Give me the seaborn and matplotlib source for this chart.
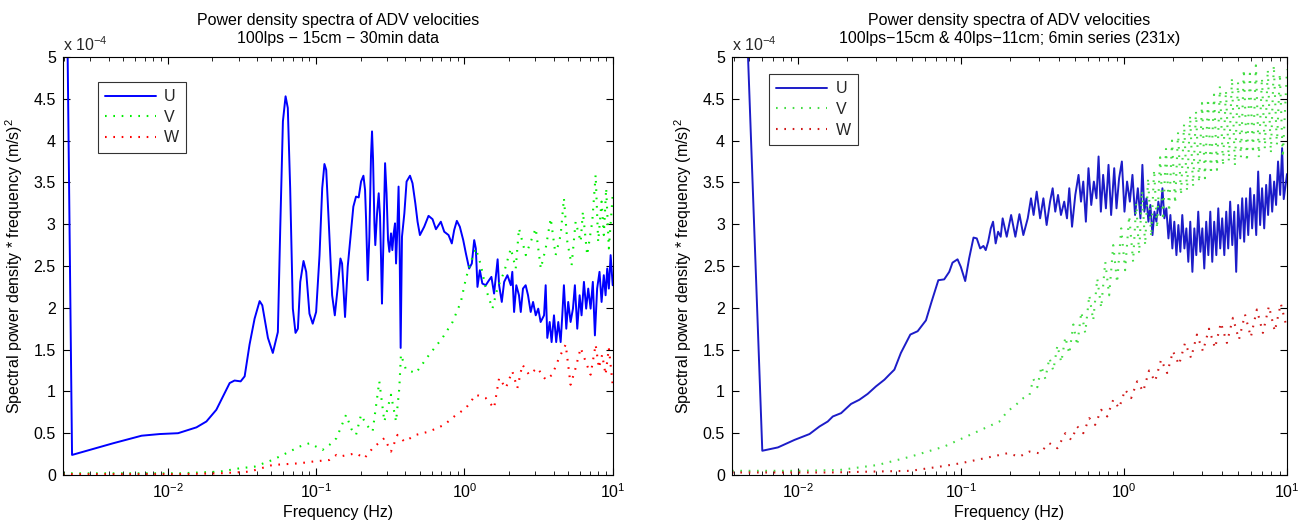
import numpy as np
import pandas as pd
import matplotlib
matplotlib.use("Agg")
import matplotlib.pyplot as plt
import seaborn as sns
from matplotlib.ticker import FuncFormatter, LogLocator, NullFormatter

# ---------------- data (values in units of 1e-4 (m/s)^2, frequencies as log10(Hz)) -------------
left_u_logf = [-2.709, -2.646, -2.368, -2.177, -2.054, -1.931, -1.807, -1.740, -1.673, -1.628,
               -1.583, -1.550, -1.509, -1.482, -1.449, -1.415, -1.381, -1.363, -1.325, -1.292,
               -1.258, -1.242, -1.224, -1.206, -1.191, -1.175, -1.157, -1.139, -1.123, -1.107,
               -1.085, -1.067, -1.045, -1.023, -1.000, -0.977, -0.959, -0.944, -0.932, -0.915,
               -0.892, -0.874, -0.854, -0.836, -0.825, -0.805, -0.787, -0.764, -0.749, -0.731,
               -0.713, -0.697, -0.681, -0.670, -0.663, -0.652, -0.641, -0.630, -0.623, -0.616,
               -0.607, -0.601, -0.589, -0.578, -0.569, -0.562, -0.556, -0.547, -0.535, -0.525,
               -0.515, -0.506, -0.495, -0.486, -0.477, -0.468, -0.461, -0.453, -0.444, -0.437,
               -0.430, -0.421, -0.405, -0.390, -0.367, -0.350, -0.331, -0.316, -0.300, -0.271,
               -0.242, -0.215, -0.192, -0.159, -0.136, -0.107, -0.085, -0.069, -0.051, -0.031,
               -0.008, 0.010, 0.032, 0.050, 0.066, 0.077, 0.088, 0.104, 0.121, 0.144,
               0.166, 0.182, 0.200, 0.224, 0.234, 0.252, 0.268, 0.290, 0.313, 0.323,
               0.335, 0.350, 0.368, 0.380, 0.395, 0.413, 0.429, 0.447, 0.463, 0.481,
               0.498, 0.514, 0.537, 0.548, 0.559, 0.575, 0.588, 0.604, 0.619, 0.633,
               0.649, 0.660, 0.671, 0.687, 0.700, 0.716, 0.732, 0.745, 0.761, 0.777,
               0.790, 0.806, 0.821, 0.835, 0.851, 0.866, 0.880, 0.895, 0.911, 0.925,
               0.940, 0.952, 0.963, 0.974, 0.986, 1.000]
left_u_val = [10.4, 0.24, 0.38, 0.47, 0.49, 0.50, 0.57, 0.64, 0.78, 0.94,
              1.10, 1.13, 1.12, 1.18, 1.56, 1.87, 2.08, 2.03, 1.64, 1.46,
              1.71, 2.95, 4.23, 4.53, 4.39, 3.43, 1.99, 1.70, 1.75, 2.31,
              2.56, 2.43, 1.93, 1.81, 1.95, 2.63, 3.43, 3.72, 3.65, 3.03,
              2.15, 1.91, 2.25, 2.59, 2.53, 1.89, 2.49, 2.93, 3.21, 3.33,
              3.32, 3.51, 3.58, 3.41, 3.05, 2.33, 2.85, 3.81, 4.11, 3.77,
              3.01, 2.75, 3.13, 3.37, 3.09, 2.57, 2.05, 2.73, 3.73, 3.37,
              2.81, 2.67, 2.89, 2.69, 2.89, 3.01, 2.53, 2.91, 3.45, 2.73,
              1.52, 2.85, 3.13, 3.51, 3.58, 3.49, 3.25, 3.03, 2.87, 2.97,
              3.10, 3.06, 2.94, 3.03, 2.91, 2.87, 2.77, 2.93, 3.04, 2.97,
              2.81, 2.65, 2.47, 2.53, 2.81, 2.71, 2.25, 2.45, 2.29, 2.27,
              2.33, 2.37, 2.17, 2.58, 2.27, 2.07, 2.31, 2.39, 2.27, 2.43,
              1.95, 2.27, 2.15, 1.95, 2.23, 2.27, 2.15, 1.95, 2.07, 1.91,
              1.99, 1.83, 1.91, 2.27, 1.64, 1.83, 1.59, 1.91, 1.59, 1.83,
              1.59, 1.91, 2.27, 1.75, 2.07, 1.83, 1.99, 2.27, 1.75, 2.15,
              1.91, 2.31, 1.99, 2.23, 1.99, 2.31, 1.67, 2.23, 2.43, 2.07,
              2.39, 2.15, 2.47, 2.23, 2.63, 2.27]

left_v_logf = [-2.709, -2.525, -2.323, -2.121, -1.920, -1.785, -1.650, -1.516, -1.415, -1.294,
               -1.179, -1.112, -1.045, -0.957, -0.910, -0.863, -0.798, -0.762, -0.731, -0.697,
               -0.661, -0.619, -0.574, -0.540, -0.495, -0.461, -0.439, -0.428, -0.394, -0.327,
               -0.237, -0.148, -0.080, -0.024, 0.010, 0.043, 0.077, 0.111, 0.144, 0.189,
               0.222, 0.268, 0.313, 0.346, 0.368, 0.414, 0.447, 0.481, 0.515, 0.548,
               0.582, 0.615, 0.649, 0.671, 0.694, 0.723, 0.750, 0.784, 0.799, 0.828,
               0.862, 0.885, 0.902, 0.925, 0.940, 0.956, 0.974, 1.000]
left_v_val = [0.02, 0.02, 0.02, 0.02, 0.02, 0.03, 0.04, 0.08, 0.10, 0.18,
              0.28, 0.34, 0.38, 0.30, 0.36, 0.44, 0.72, 0.55, 0.48, 0.72,
              0.60, 0.52, 1.12, 0.64, 0.96, 0.64, 1.04, 1.44, 1.26, 1.22,
              1.44, 1.64, 1.83, 2.07, 2.35, 2.55, 2.71, 2.51, 2.23, 1.99,
              2.23, 2.43, 2.71, 2.47, 2.95, 2.63, 2.79, 2.95, 2.47, 2.71,
              3.07, 2.63, 2.87, 3.31, 2.79, 2.51, 3.03, 2.79, 3.15, 2.63,
              3.03, 3.59, 2.79, 3.27, 2.87, 3.43, 2.71, 3.35]

left_w_logf = [-2.709, -2.323, -1.920, -1.650, -1.449, -1.294, -1.112, -1.025, -0.910, -0.863,
               -0.843, -0.731, -0.675, -0.619, -0.540, -0.495, -0.451, -0.405, -0.327, -0.237,
               -0.136, -0.069, 0.010, 0.077, 0.144, 0.200, 0.234, 0.279, 0.323, 0.357,
               0.391, 0.436, 0.492, 0.548, 0.593, 0.638, 0.683, 0.716, 0.750, 0.784,
               0.817, 0.851, 0.885, 0.907, 0.929, 0.952, 0.974, 1.000]
left_w_val = [0.01, 0.01, 0.01, 0.02, 0.04, 0.12, 0.14, 0.16, 0.18, 0.24,
              0.22, 0.26, 0.20, 0.32, 0.44, 0.28, 0.48, 0.40, 0.48, 0.52,
              0.60, 0.70, 0.80, 0.96, 0.92, 0.80, 1.16, 1.04, 1.24, 1.04,
              1.32, 1.20, 1.28, 1.14, 1.20, 1.40, 1.56, 1.08, 1.28, 1.52,
              1.36, 1.20, 1.56, 1.28, 1.44, 1.20, 1.52, 1.08]

right_u_logf = [-2.408, -2.222, -2.126, -2.024, -1.932, -1.871, -1.820, -1.789, -1.738, -1.677,
                -1.626, -1.575, -1.524, -1.472, -1.442, -1.411, -1.371, -1.313, -1.268, -1.217,
                -1.183, -1.141, -1.105, -1.074, -1.054, -1.023, -1.003, -0.976, -0.952, -0.925,
                -0.905, -0.884, -0.864, -0.850, -0.835, -0.819, -0.805, -0.789, -0.774, -0.758,
                -0.746, -0.721, -0.694, -0.668, -0.643, -0.619, -0.592, -0.572, -0.556, -0.537,
                -0.516, -0.496, -0.476, -0.455, -0.439, -0.423, -0.406, -0.388, -0.368, -0.351,
                -0.337, -0.320, -0.300, -0.280, -0.265, -0.251, -0.235, -0.219, -0.202, -0.186,
                -0.170, -0.157, -0.143, -0.129, -0.112, -0.096, -0.080, -0.061, -0.047, -0.031,
                -0.014, 0.002, 0.018, 0.035, 0.051, 0.067, 0.084, 0.100, 0.112, 0.124,
                0.137, 0.149, 0.161, 0.174, 0.186, 0.198, 0.210, 0.223, 0.235, 0.247,
                0.259, 0.272, 0.284, 0.296, 0.308, 0.321, 0.333, 0.345, 0.357, 0.370,
                0.382, 0.394, 0.406, 0.419, 0.431, 0.443, 0.455, 0.468, 0.480, 0.492,
                0.504, 0.517, 0.529, 0.541, 0.553, 0.566, 0.578, 0.590, 0.602, 0.615,
                0.627, 0.639, 0.651, 0.664, 0.676, 0.688, 0.700, 0.713, 0.725, 0.737,
                0.749, 0.762, 0.774, 0.786, 0.798, 0.811, 0.823, 0.835, 0.847, 0.860,
                0.872, 0.884, 0.896, 0.909, 0.921, 0.933, 0.945, 0.958, 0.970, 0.980,
                1.000]
right_u_val = [10.3, 0.29, 0.33, 0.42, 0.49, 0.58, 0.64, 0.70, 0.74, 0.85,
               0.90, 0.97, 1.06, 1.14, 1.20, 1.26, 1.46, 1.68, 1.72, 1.85,
               2.07, 2.33, 2.34, 2.43, 2.54, 2.58, 2.49, 2.32, 2.59, 2.84,
               2.83, 2.71, 2.74, 2.69, 2.79, 2.95, 3.03, 2.77, 2.91, 2.85,
               3.07, 2.85, 3.11, 2.85, 3.12, 2.87, 3.07, 3.31, 3.11, 3.39,
               3.07, 3.31, 2.99, 3.27, 3.43, 3.15, 3.35, 3.11, 3.27, 3.07,
               3.43, 2.97, 3.35, 3.59, 3.27, 3.51, 3.03, 3.67, 3.23, 3.51,
               3.31, 3.81, 3.15, 3.59, 3.19, 3.71, 3.11, 3.67, 3.19, 3.55,
               3.75, 3.15, 3.51, 3.27, 3.59, 3.11, 3.43, 3.07, 3.71, 3.15,
               3.31, 3.03, 3.23, 2.87, 3.15, 3.03, 3.27, 3.11, 3.43, 3.07,
               3.19, 2.83, 3.11, 2.71, 3.03, 2.63, 2.99, 2.67, 3.11, 2.71,
               2.95, 2.55, 3.03, 2.43, 2.95, 2.63, 3.15, 2.67, 2.95, 2.47,
               3.03, 2.63, 3.15, 2.55, 3.03, 2.63, 3.19, 2.71, 3.07, 2.63,
               3.15, 2.71, 3.27, 2.75, 3.15, 2.43, 3.23, 2.83, 3.31, 2.79,
               3.31, 2.87, 3.43, 2.95, 3.35, 2.87, 3.63, 2.99, 3.43, 2.95,
               3.47, 3.11, 3.59, 3.15, 3.51, 3.23, 3.75, 3.35, 3.91, 3.30,
               3.60]

right_v_logf = [-2.408, -2.236, -1.991, -1.746, -1.513, -1.311, -1.105, -0.901, -0.766, -0.717,
                -0.664, -0.619,
                -0.582, -0.558, -0.533, -0.508, -0.484, -0.459, -0.435, -0.410, -0.386, -0.361,
                -0.337, -0.312, -0.288, -0.263, -0.239, -0.214, -0.190, -0.165, -0.141, -0.116,
                -0.092, -0.067, -0.043, -0.018, 0.006, 0.031, 0.055, 0.074, 0.092, 0.110,
                0.129, 0.147, 0.166, 0.184, 0.202, 0.221, 0.239, 0.257, 0.276, 0.294,
                0.313, 0.331, 0.349, 0.368, 0.386, 0.405, 0.423, 0.441, 0.460, 0.478,
                0.496, 0.515, 0.533, 0.552, 0.570, 0.588, 0.607, 0.625, 0.643, 0.662,
                0.680, 0.699, 0.717, 0.735, 0.754, 0.772, 0.791, 0.809, 0.827, 0.846,
                0.864, 0.882, 0.901, 0.919, 0.938, 0.956, 0.974, 1.000]
right_v_val = [0.05, 0.05, 0.05, 0.06, 0.12, 0.22, 0.34, 0.52, 0.64, 0.76,
               0.84, 0.92,
               0.95, 1.15, 1.05, 1.30, 1.15, 1.40, 1.25, 1.55, 1.35, 1.65,
               1.45, 1.80, 1.55, 1.95, 1.70, 2.15, 1.85, 2.35, 2.00, 2.55,
               2.15, 2.75, 2.30, 2.95, 2.45, 3.10, 2.55, 3.25, 2.65, 3.40,
               2.75, 3.55, 2.85, 3.65, 2.95, 3.80, 3.05, 3.90, 3.15, 4.00,
               3.25, 4.10, 3.35, 4.20, 3.40, 4.30, 3.45, 4.35, 3.50, 4.45,
               3.55, 4.50, 3.60, 4.55, 3.65, 4.65, 3.70, 4.60, 3.75, 4.75,
               3.70, 4.70, 3.80, 4.85, 3.75, 4.80, 3.85, 4.90, 3.80, 4.75,
               3.90, 4.85, 3.85, 4.90, 3.95, 4.80, 3.80, 4.85]

right_w_logf = [-2.408, -2.114, -1.808, -1.562, -1.311, -1.133, -1.005, -0.858, -0.717,
                -0.643, -0.582, -0.521, -0.459, -0.410, -0.361, -0.325, -0.288, -0.251, -0.214,
                -0.178, -0.141, -0.104, -0.067, -0.031,
                0.006, 0.043, 0.080, 0.117, 0.153, 0.190, 0.227, 0.264, 0.300, 0.337,
                0.374, 0.411, 0.447, 0.484, 0.521, 0.558, 0.594, 0.631, 0.668, 0.705,
                0.742, 0.778, 0.815, 0.852, 0.889, 0.925, 0.962, 1.000]
right_w_val = [0.03, 0.03, 0.03, 0.04, 0.05, 0.10, 0.14, 0.20, 0.26,
               0.22, 0.28, 0.26, 0.38, 0.32, 0.50, 0.42, 0.58, 0.50, 0.68,
               0.60, 0.78, 0.70, 0.90, 0.80,
               1.02, 0.92, 1.12, 1.00, 1.25, 1.12, 1.38, 1.22, 1.48, 1.32,
               1.58, 1.40, 1.68, 1.48, 1.75, 1.52, 1.82, 1.58, 1.88, 1.62,
               1.92, 1.65, 1.98, 1.70, 2.02, 1.72, 2.05, 1.75]

series_labels = ["U", "V", "W"]
y_ticks = [0, 0.5, 1, 1.5, 2, 2.5, 3, 3.5, 4, 4.5, 5]
titles = ["Power density spectra of ADV velocities\n100lps \u2212 15cm \u2212 30min data",
          "Power density spectra of ADV velocities\n100lps\u221215cm & 40lps\u221211cm; 6min series (231x)"]
x_label = "Frequency (Hz)"
y_label = "Spectral power density * frequency (m/s)$^2$"

# ---------------- style ----------------
sns.set_style("white")
plt.rcParams['font.family'] = ['Liberation Sans', 'DejaVu Sans']
plt.rcParams['mathtext.fontset'] = 'custom'
plt.rcParams['mathtext.rm'] = 'Liberation Sans'
plt.rcParams['mathtext.it'] = 'Liberation Sans:italic'
plt.rcParams['mathtext.default'] = 'regular'

FS = 11.5

fig = plt.figure(figsize=(13.1, 5.24), dpi=100)
axL = fig.add_axes([62.7 / 1310, 49 / 524, 550 / 1310, 418 / 524])
axR = fig.add_axes([732 / 1310, 49 / 524, 555 / 1310, 418 / 524])


def draw(ax, data, colors, xmin, title, leg_anchor):
    ax.set_xscale('log')
    styles = ['-', ':', ':']
    for (lf, val), col, st, lab in zip(data, colors, styles, series_labels):
        df = pd.DataFrame({'f': 10 ** np.asarray(lf), 'p': val})
        sns.lineplot(data=df, x='f', y='p', ax=ax, color=col, estimator=None,
                     sort=False, legend=False,
                     linewidth=1.4 if st == '-' else 1.5)
        line = ax.lines[-1]
        line.set_label(lab)
        if st == ':':
            line.set_linestyle((0, (0.8, 3.2)))
    ax.set_xlim(xmin, 10)
    ax.set_ylim(0, 5)
    ax.set_yticks(y_ticks)
    ax.yaxis.set_major_formatter(FuncFormatter(lambda v, p: '%g' % v))
    ax.xaxis.set_major_locator(LogLocator(base=10, numticks=10))
    ax.xaxis.set_minor_locator(LogLocator(base=10, subs=np.arange(2, 10), numticks=60))
    ax.xaxis.set_minor_formatter(NullFormatter())
    ax.tick_params(which='both', direction='in', bottom=True, left=True, top=True,
                   right=True, color='black', labelsize=FS, labelcolor='black')
    ax.tick_params(which='major', length=5, width=0.8, pad=5)
    ax.tick_params(which='minor', length=3, width=0.6)
    for s in ax.spines.values():
        s.set_color('black')
        s.set_linewidth(0.8)
        s.set_visible(True)
    ax.set_xlabel(x_label, fontsize=FS, color='black', labelpad=3)
    ax.set_ylabel(y_label, fontsize=FS, color='black', labelpad=6)
    ax.set_title(title, fontsize=FS, color='black', pad=10, linespacing=1.3)
    ax.text(0.0, 1.008, r'x 10$^{-4}$', transform=ax.transAxes, ha='left', va='bottom',
            fontsize=FS)
    leg = ax.legend(handles=ax.lines[:3], labels=series_labels, loc='upper left',
                    bbox_to_anchor=leg_anchor, borderaxespad=0, fancybox=False,
                    frameon=True, edgecolor='black', fontsize=FS, handlelength=3.2,
                    handletextpad=0.5, labelspacing=0.35, borderpad=0.45)
    leg.get_frame().set_linewidth(0.8)
    ax.grid(False)


draw(axL, [(left_u_logf, left_u_val), (left_v_logf, left_v_val), (left_w_logf, left_w_val)],
     ['#0000ff', '#00ee00', '#ff0000'], 10 ** -2.709, titles[0], (0.064, 0.94))
draw(axR, [(right_u_logf, right_u_val), (right_v_logf, right_v_val), (right_w_logf, right_w_val)],
     ['#1c1cc8', '#44dd44', '#d01818'], 10 ** -2.408, titles[1], (0.067, 0.959))

fig.savefig('out.png', dpi=100)
